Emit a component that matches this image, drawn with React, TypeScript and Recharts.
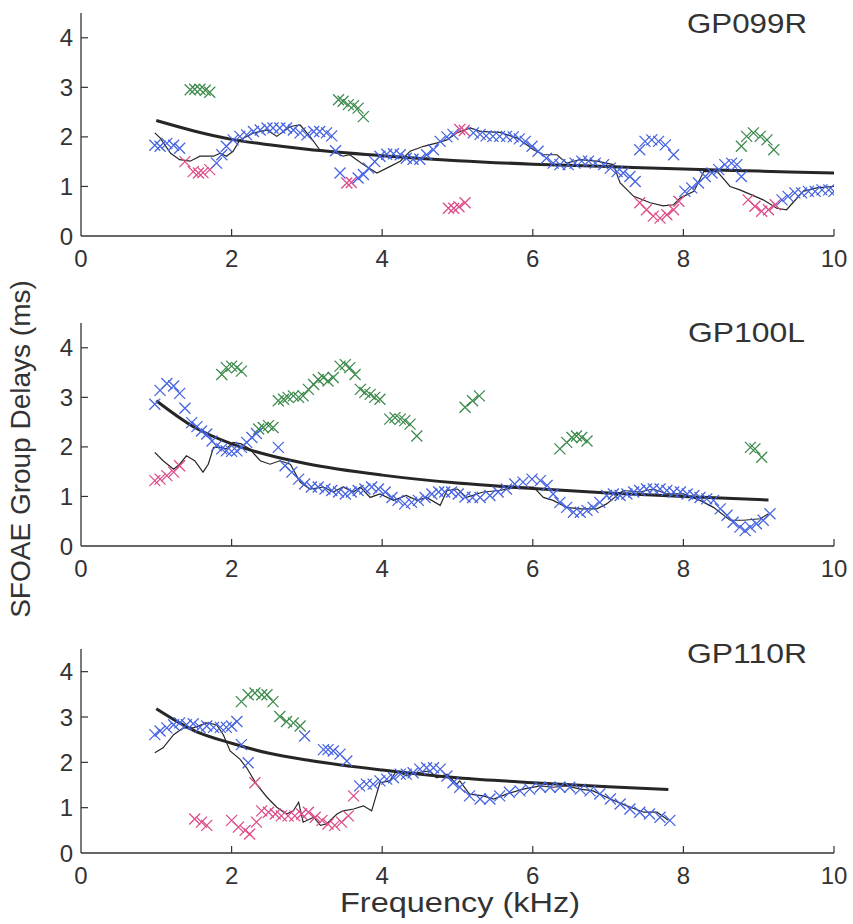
import React from 'react';
import { ComposedChart, Scatter, Line, XAxis, YAxis } from 'recharts';

// ---------- data (kHz, ms) ----------
const xTicks = [0, 2, 4, 6, 8, 10];
const yTicks = [0, 1, 2, 3, 4];
const titles = ['GP099R', 'GP100L', 'GP110R'];

const p1Blue = [[0.98,1.83],[1.05,1.81],[1.14,1.87],[1.23,1.83],[1.31,1.77],[1.8,1.47],[1.87,1.64],[1.93,1.81],[2.02,1.94],[2.11,2.01],[2.2,2.04],[2.29,2.11],[2.38,2.14],[2.47,2.18],[2.55,2.18],[2.64,2.18],[2.73,2.18],[2.82,2.14],[2.91,2.08],[3.0,2.04],[3.09,2.11],[3.17,2.11],[3.26,2.08],[3.33,2.02],[3.38,1.72],[3.44,1.27],[3.68,1.17],[3.75,1.24],[3.82,1.37],[3.9,1.5],[3.97,1.61],[4.06,1.65],[4.15,1.66],[4.24,1.64],[4.32,1.57],[4.41,1.55],[4.5,1.55],[4.59,1.64],[4.68,1.74],[4.77,1.91],[4.86,2.0],[4.94,2.05],[5.21,2.08],[5.3,2.05],[5.38,2.02],[5.47,2.01],[5.56,2.01],[5.65,2.01],[5.74,2.0],[5.82,1.96],[5.9,1.91],[5.99,1.81],[6.07,1.71],[6.18,1.57],[6.27,1.47],[6.36,1.44],[6.47,1.44],[6.56,1.47],[6.65,1.51],[6.74,1.51],[6.83,1.47],[6.94,1.44],[7.03,1.37],[7.12,1.3],[7.2,1.27],[7.29,1.2],[7.36,1.1],[7.42,1.74],[7.49,1.91],[7.58,1.94],[7.67,1.91],[7.76,1.84],[7.87,1.64],[8.02,0.9],[8.11,0.97],[8.2,1.07],[8.29,1.2],[8.38,1.27],[8.47,1.34],[8.55,1.44],[8.64,1.47],[8.71,1.44],[8.77,1.2],[9.31,0.73],[9.39,0.8],[9.48,0.87],[9.57,0.87],[9.66,0.9],[9.75,0.9],[9.84,0.93],[9.93,0.93],[10.0,0.9]];
const p1Pink = [[1.38,1.5],[1.49,1.3],[1.56,1.27],[1.62,1.28],[1.71,1.34],[3.53,1.07],[3.59,1.08],[4.88,0.56],[4.95,0.56],[5.02,0.59],[5.1,0.67],[5.03,2.15],[5.09,2.13],[7.42,0.67],[7.51,0.53],[7.6,0.4],[7.69,0.36],[7.78,0.43],[7.87,0.53],[7.94,0.7],[8.86,0.73],[8.95,0.6],[9.04,0.5],[9.13,0.53],[9.22,0.63]];
const p1Green = [[1.45,2.95],[1.51,2.96],[1.58,2.96],[1.65,2.94],[1.71,2.9],[3.42,2.75],[3.48,2.72],[3.55,2.65],[3.62,2.63],[3.68,2.58],[3.75,2.41],[8.77,1.81],[8.84,2.01],[8.93,2.08],[9.02,2.01],[9.11,1.94],[9.2,1.74]];
const p1Thin = [[0.98,2.08],[1.05,1.98],[1.19,1.67],[1.31,1.54],[1.45,1.51],[1.58,1.61],[1.76,1.61],[1.85,1.67],[1.93,1.61],[2.02,1.71],[2.11,1.94],[2.29,2.08],[2.47,2.14],[2.6,2.01],[2.78,2.21],[2.91,2.24],[3.04,2.01],[3.17,1.74],[3.31,1.71],[3.4,1.67],[3.48,1.61],[3.57,1.64],[3.66,1.54],[3.79,1.4],[3.93,1.27],[4.1,1.4],[4.24,1.51],[4.37,1.71],[4.55,1.81],[4.73,1.88],[4.86,1.94],[4.99,2.08],[5.17,2.18],[5.3,2.11],[5.56,2.09],[5.79,1.98],[6.01,1.74],[6.14,1.64],[6.32,1.64],[6.45,1.47],[6.63,1.54],[6.85,1.51],[7.07,1.44],[7.16,1.07],[7.34,0.8],[7.56,0.67],[7.73,0.61],[7.87,0.63],[7.96,0.77],[8.14,0.9],[8.27,1.3],[8.45,1.3],[8.62,1.0],[8.75,0.93],[9.06,0.73],[9.24,0.56],[9.37,0.53],[9.59,0.9],[9.77,0.97],[10.0,1.0]];
const p1Fit = [[1,2.33],[1.5,2.12],[2,1.95],[2.5,1.84],[3,1.75],[4,1.62],[5,1.52],[6,1.45],[7,1.4],[8,1.35],[9,1.31],[10,1.27]];

const p2Blue = [[0.98,2.86],[1.05,3.14],[1.14,3.28],[1.23,3.23],[1.31,3.08],[1.38,2.78],[1.47,2.49],[1.54,2.41],[1.6,2.32],[1.67,2.26],[1.74,2.12],[1.8,2.02],[1.87,1.96],[1.93,1.92],[2.0,1.91],[2.07,1.92],[2.13,1.99],[2.2,2.09],[2.27,2.19],[2.33,2.27],[2.62,1.99],[2.71,1.62],[2.8,1.49],[2.89,1.35],[2.97,1.25],[3.06,1.19],[3.15,1.19],[3.24,1.15],[3.33,1.12],[3.42,1.09],[3.51,1.05],[3.59,1.09],[3.68,1.12],[3.77,1.15],[3.86,1.19],[3.95,1.15],[4.04,1.09],[4.13,0.98],[4.21,0.92],[4.3,0.85],[4.39,0.88],[4.48,0.92],[4.57,0.98],[4.66,1.05],[4.75,1.09],[4.83,1.09],[4.92,1.09],[5.01,1.05],[5.1,0.99],[5.2,0.98],[5.3,0.98],[5.43,1.02],[5.54,1.09],[5.65,1.15],[5.76,1.25],[5.87,1.29],[5.99,1.35],[6.1,1.32],[6.19,1.22],[6.27,1.05],[6.36,0.88],[6.45,0.78],[6.54,0.68],[6.63,0.68],[6.72,0.72],[6.8,0.78],[6.89,0.88],[6.98,1.02],[7.07,1.05],[7.16,1.02],[7.25,1.05],[7.34,1.09],[7.42,1.12],[7.51,1.15],[7.6,1.15],[7.69,1.15],[7.78,1.12],[7.87,1.09],[7.96,1.09],[8.05,1.05],[8.14,1.02],[8.22,0.98],[8.31,0.95],[8.4,0.92],[8.49,0.75],[8.58,0.62],[8.66,0.48],[8.75,0.38],[8.82,0.31],[8.89,0.38],[8.97,0.45],[9.06,0.52],[9.15,0.65]];
const p2Pink = [[0.98,1.32],[1.05,1.35],[1.14,1.42],[1.23,1.49],[1.31,1.62]];
const p2Green = [[1.87,3.46],[1.93,3.6],[2.0,3.63],[2.07,3.6],[2.13,3.53],[2.36,2.36],[2.42,2.39],[2.49,2.43],[2.55,2.39],[2.62,2.93],[2.69,2.96],[2.75,3.0],[2.82,3.03],[2.89,3.0],[2.95,3.03],[3.02,3.16],[3.09,3.26],[3.15,3.36],[3.22,3.4],[3.28,3.33],[3.35,3.4],[3.44,3.63],[3.51,3.66],[3.57,3.6],[3.64,3.46],[3.71,3.16],[3.77,3.1],[3.84,3.06],[3.9,3.0],[3.97,2.96],[4.1,2.56],[4.17,2.59],[4.24,2.56],[4.3,2.53],[4.37,2.46],[4.46,2.22],[5.1,2.8],[5.2,2.93],[5.29,3.03],[6.36,1.96],[6.45,2.09],[6.52,2.19],[6.58,2.22],[6.65,2.19],[6.72,2.12],[8.89,1.99],[8.95,1.96],[9.04,1.79]];
const p2Thin = [[0.98,1.89],[1.09,1.72],[1.23,1.55],[1.31,1.65],[1.4,1.82],[1.51,1.72],[1.62,1.49],[1.69,1.65],[1.76,1.99],[1.85,1.99],[1.93,1.96],[2.02,2.09],[2.13,2.06],[2.24,1.96],[2.38,1.72],[2.51,1.65],[2.64,1.72],[2.78,1.65],[2.91,1.29],[3.04,1.15],[3.22,1.19],[3.35,1.09],[3.48,1.19],[3.62,1.09],[3.71,1.19],[3.84,0.98],[3.97,1.05],[4.15,0.92],[4.32,1.02],[4.46,0.92],[4.59,0.98],[4.77,0.82],[4.86,1.12],[5.0,1.15],[5.12,0.98],[5.34,1.09],[5.56,1.12],[5.79,1.19],[6.01,1.19],[6.14,0.98],[6.27,0.92],[6.45,0.78],[6.63,0.75],[6.85,0.75],[6.98,0.85],[7.2,1.12],[7.42,1.09],[7.6,1.15],[7.78,1.05],[8.0,1.05],[8.22,0.92],[8.4,0.78],[8.62,0.52],[8.8,0.52],[9.02,0.55],[9.13,0.65]];
const p2Fit = [[1,2.93],[1.5,2.4],[2,2.06],[2.5,1.83],[3,1.66],[4,1.43],[5,1.27],[6,1.16],[7,1.07],[8,1.0],[9.13,0.93]];

const p3Blue = [[0.98,2.61],[1.05,2.69],[1.14,2.76],[1.23,2.83],[1.31,2.87],[1.4,2.83],[1.49,2.85],[1.58,2.77],[1.67,2.8],[1.76,2.77],[1.85,2.77],[1.93,2.77],[2.0,2.8],[2.07,2.9],[2.13,2.39],[2.22,1.99],[2.97,2.58],[3.22,2.28],[3.28,2.28],[3.35,2.25],[3.44,2.18],[3.53,2.03],[3.7,1.48],[3.79,1.52],[3.88,1.52],[3.97,1.59],[4.06,1.63],[4.15,1.66],[4.24,1.74],[4.32,1.74],[4.41,1.77],[4.5,1.85],[4.59,1.88],[4.68,1.88],[4.77,1.85],[4.86,1.7],[4.94,1.55],[5.03,1.45],[5.16,1.26],[5.3,1.19],[5.43,1.19],[5.56,1.26],[5.69,1.34],[5.83,1.37],[5.96,1.41],[6.1,1.45],[6.23,1.45],[6.36,1.45],[6.49,1.45],[6.63,1.41],[6.76,1.37],[6.89,1.3],[7.03,1.19],[7.16,1.08],[7.29,0.97],[7.42,0.9],[7.55,0.86],[7.69,0.79],[7.82,0.72]];
const p3Pink = [[1.51,0.75],[1.6,0.68],[1.67,0.61],[2.0,0.72],[2.09,0.57],[2.18,0.5],[2.24,0.42],[2.33,0.68],[2.31,1.55],[2.4,0.93],[2.49,0.9],[2.58,0.86],[2.66,0.82],[2.75,0.82],[2.84,0.82],[2.93,0.86],[3.02,0.9],[3.11,0.79],[3.2,0.72],[3.28,0.64],[3.37,0.61],[3.46,0.68],[3.55,0.82],[3.62,1.26]];
const p3Green = [[2.13,3.34],[2.22,3.49],[2.31,3.53],[2.4,3.49],[2.47,3.49],[2.55,3.34],[2.64,3.01],[2.73,2.9],[2.82,2.87],[2.91,2.8]];
const p3Thin = [[0.98,2.21],[1.09,2.32],[1.23,2.61],[1.36,2.76],[1.49,2.76],[1.67,2.87],[1.8,2.83],[1.89,2.61],[1.98,2.25],[2.11,2.07],[2.2,1.88],[2.33,1.52],[2.47,1.23],[2.6,1.01],[2.73,0.86],[2.82,0.93],[2.89,1.12],[2.95,0.68],[3.09,0.79],[3.18,0.61],[3.26,0.64],[3.4,0.86],[3.48,0.93],[3.62,0.97],[3.75,1.04],[3.86,0.93],[3.97,1.55],[4.1,1.59],[4.19,1.81],[4.32,1.7],[4.46,1.77],[4.63,1.81],[4.72,1.66],[4.86,1.74],[4.99,1.52],[5.03,1.59],[5.16,1.3],[5.34,1.26],[5.48,1.19],[5.65,1.3],[5.87,1.41],[6.1,1.48],[6.27,1.45],[6.45,1.48],[6.63,1.41],[6.8,1.37],[7.03,1.19],[7.25,1.04],[7.47,0.9],[7.65,0.9],[7.8,0.72]];
const p3Fit = [[1,3.18],[1.5,2.7],[2,2.42],[2.5,2.2],[3,2.05],[4,1.83],[5,1.66],[6,1.55],[7,1.46],[7.8,1.4]];

// ---------- helpers ----------
const toPts = (arr: number[][]) => arr.map(([x, y]) => ({ x, y }));

const BLUE = '#4563e2';
const PINK = '#de4a88';
const GREEN = '#3c8a4c';
const INK = '#262626';
const TEXT = '#333333';
const FONT = '"Liberation Sans", Arial, Helvetica, sans-serif';

const makeCross = (color: string) => (props: any) => {
  const { cx, cy } = props;
  if (cx == null || cy == null) return <g />;
  const s = 5.5;
  return (
    <path
      d={`M${cx - s},${cy - s}L${cx + s},${cy + s}M${cx - s},${cy + s}L${cx + s},${cy - s}`}
      stroke={color}
      strokeWidth={1.25}
      fill="none"
    />
  );
};

const XTick = (props: any) => {
  const { x, y, payload } = props;
  const v = payload.value;
  return (
    <g>
      {v !== 0 && <line x1={x} y1={y} x2={x} y2={y - 7} stroke={TEXT} strokeWidth={1.2} />}
      <text x={x} y={y + 31} textAnchor="middle" fontSize={24} fill={TEXT} fontFamily={FONT}>
        {v}
      </text>
    </g>
  );
};

const YTick = (props: any) => {
  const { x, y, payload } = props;
  const v = payload.value;
  return (
    <g>
      {v !== 0 && <line x1={x} y1={y} x2={x + 7} y2={y} stroke={TEXT} strokeWidth={1.2} />}
      <text x={x - 8} y={y + 8.5} textAnchor="end" fontSize={24} fill={TEXT} fontFamily={FONT}>
        {v}
      </text>
    </g>
  );
};

type PanelProps = {
  top: number;
  height: number;
  blue: number[][];
  pink: number[][];
  green: number[][];
  thin: number[][];
  fit: number[][];
};

const Panel = ({ top, height, blue, pink, green, thin, fit }: PanelProps) => (
  <div style={{ position: 'absolute', left: 0, top, width: 853, height }}>
    <ComposedChart width={853} height={height} margin={{ top: 13, right: 19, left: 0, bottom: 0 }}>
      <XAxis
        type="number"
        dataKey="x"
        domain={[0, 10]}
        ticks={xTicks}
        allowDataOverflow
        height={42}
        tickSize={0}
        tickMargin={0}
        tickLine={false}
        axisLine={{ stroke: TEXT, strokeWidth: 1.3 }}
        tick={<XTick />}
        interval={0}
      />
      <YAxis
        type="number"
        dataKey="y"
        domain={[0, 4.5]}
        ticks={yTicks}
        allowDataOverflow
        width={81}
        tickSize={0}
        tickMargin={0}
        tickLine={false}
        axisLine={{ stroke: TEXT, strokeWidth: 1.3 }}
        tick={<YTick />}
        interval={0}
      />
      <Scatter data={toPts(green)} shape={makeCross(GREEN)} isAnimationActive={false} />
      <Scatter data={toPts(pink)} shape={makeCross(PINK)} isAnimationActive={false} />
      <Scatter data={toPts(blue)} shape={makeCross(BLUE)} isAnimationActive={false} />
      <Line data={toPts(thin)} dataKey="y" type="linear" stroke={INK} strokeWidth={1.2} dot={false} activeDot={false} isAnimationActive={false} />
      <Line data={toPts(fit)} dataKey="y" type="monotone" stroke={INK} strokeWidth={3} dot={false} activeDot={false} isAnimationActive={false} />
    </ComposedChart>
  </div>
);

export default function App() {
  return (
    <div style={{ position: 'absolute', left: 0, top: 0, width: 853, height: 924, background: '#fff', fontFamily: FONT }}>
      <Panel top={0} height={278} blue={p1Blue} pink={p1Pink} green={p1Green} thin={p1Thin} fit={p1Fit} />
      <Panel top={310} height={278} blue={p2Blue} pink={p2Pink} green={p2Green} thin={p2Thin} fit={p2Fit} />
      <Panel top={636} height={259} blue={p3Blue} pink={p3Pink} green={p3Green} thin={p3Thin} fit={p3Fit} />
      <svg width={853} height={924} style={{ position: 'absolute', left: 0, top: 0, pointerEvents: 'none' }}>
        <text x={687} y={33} fontSize={28} fill={TEXT} fontFamily={FONT} textLength={120} lengthAdjust="spacingAndGlyphs">{titles[0]}</text>
        <text x={688} y={342} fontSize={28} fill={TEXT} fontFamily={FONT} textLength={117} lengthAdjust="spacingAndGlyphs">{titles[1]}</text>
        <text x={687} y={663} fontSize={28} fill={TEXT} fontFamily={FONT} textLength={120} lengthAdjust="spacingAndGlyphs">{titles[2]}</text>
        <text x={340} y={912} fontSize={27} fill={TEXT} fontFamily={FONT} textLength={240} lengthAdjust="spacingAndGlyphs">Frequency (kHz)</text>
        <text
          x={0}
          y={0}
          transform="translate(30,449) rotate(-90)"
          textAnchor="middle"
          fontSize={28}
          fill={TEXT}
          fontFamily={FONT}
        >
          SFOAE Group Delays (ms)
        </text>
      </svg>
    </div>
  );
}
